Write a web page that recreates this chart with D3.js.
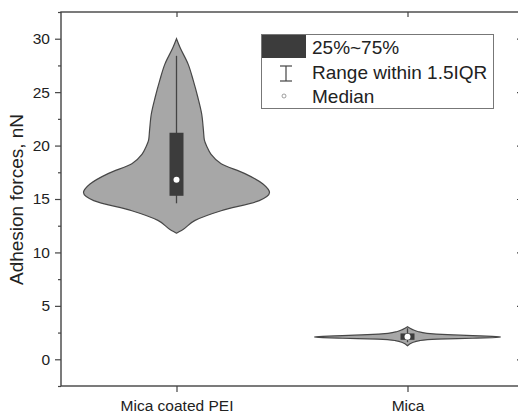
<!DOCTYPE html>
<html><head><meta charset="utf-8">
<script src="https://cdn.jsdelivr.net/npm/d3@7"></script>
<style>body{margin:0;background:#fff}svg{display:block;font-family:"Liberation Sans",Arial,sans-serif}</style>
</head><body><svg id="c" width="518" height="413"></svg>
<script>
const categories = ["Mica coated PEI", "Mica"];
// violin density profiles: value (nN) and relative density (0..1)
const peiValues   = [11.8, 12.05, 13.0, 13.9, 14.85, 15.6, 16.4, 17.4, 18.3, 19.2, 19.85, 20.5, 21.4, 23.0, 24.5, 26.1, 27.6, 29.2, 30.0];
const peiDensity  = [0, 0.054, 0.20, 0.48, 0.89, 1.0, 0.93, 0.73, 0.48, 0.37, 0.33, 0.30, 0.29, 0.27, 0.23, 0.18, 0.126, 0.037, 0];
const micaValues  = [1.27, 1.55, 1.75, 1.88, 1.97, 2.03, 2.09, 2.15, 2.21, 2.3, 2.43, 2.6, 2.8, 3.05];
const micaDensity = [0, 0.05, 0.13, 0.32, 0.70, 0.91, 1.0, 0.91, 0.70, 0.43, 0.21, 0.11, 0.05, 0];
// box statistics [whiskerLow, q1, median, q3, whiskerHigh]
const peiBox  = [14.6, 15.3, 16.8, 21.2, 28.4];
const micaBox = [1.6, 1.82, 2.1, 2.42, 2.9];
const yTicks = [0, 5, 10, 15, 20, 25, 30];
const yMinorTicks = [-2.5, 2.5, 7.5, 12.5, 17.5, 22.5, 27.5, 32.5];
const legendLabels = ["25%~75%", "Range within 1.5IQR", "Median"];

const svg = d3.select("#c");
const L = 61, R = 523, T = 12, B = 386;
const x = d3.scalePoint().domain(categories).range([L, R]).padding(0.5);
const y = d3.scaleLinear().domain([-2.5, 32.5]).range([B, T]);
const w = d3.scaleLinear().domain([0, 1]).range([0, 93]);
const axisCol = "#444";

const series = [
  {cat: categories[0], v: peiValues, d: peiDensity, box: peiBox},
  {cat: categories[1], v: micaValues, d: micaDensity, box: micaBox}
];

series.forEach(s => {
  const pts = s.v.map((v, i) => ({v, d: s.d[i]}));
  const cx = x(s.cat);
  const area = d3.area()
    .y(p => y(p.v))
    .x0(p => cx - w(p.d))
    .x1(p => cx + w(p.d))
    .curve(d3.curveMonotoneY);
  svg.append("path").attr("d", area(pts))
    .attr("fill", "#a7a7a7").attr("stroke", "#474747").attr("stroke-width", 1.2);
  const g = svg.append("g");
  g.append("line").attr("x1", cx).attr("x2", cx)
    .attr("y1", y(s.box[0])).attr("y2", y(s.box[4]))
    .attr("stroke", "#444").attr("stroke-width", 1.3);
  g.append("rect").attr("x", cx - 7).attr("width", 14)
    .attr("y", y(s.box[3])).attr("height", y(s.box[1]) - y(s.box[3]))
    .attr("fill", "#3c3c3c");
  g.append("circle").attr("cx", cx).attr("cy", y(s.box[2])).attr("r", 3)
    .attr("fill", "#fff");
});

// frame
svg.append("rect").attr("x", L).attr("y", T).attr("width", R - L).attr("height", B - T)
  .attr("fill", "none").attr("stroke", axisCol).attr("stroke-width", 1.4);

// left axis
const yAxis = d3.axisLeft(y).tickValues(yTicks).tickSize(6).tickPadding(5).tickFormat(d3.format("d"));
const gl = svg.append("g").attr("transform", `translate(${L},0)`).call(yAxis);
gl.select(".domain").remove();
gl.selectAll(".tick line").attr("stroke", axisCol).attr("stroke-width", 1.2);
gl.selectAll(".tick text").attr("font-size", 15.5).attr("fill", "#222").attr("font-family", "Liberation Sans, Arial, sans-serif");
const glm = svg.append("g").attr("transform", `translate(${L},0)`)
  .call(d3.axisLeft(y).tickValues(yMinorTicks).tickSize(3).tickFormat(""));
glm.select(".domain").remove();
glm.selectAll(".tick line").attr("stroke", axisCol).attr("stroke-width", 1.2);

// right axis (mirror, inward)
const gr = svg.append("g").attr("transform", `translate(${R},0)`)
  .call(d3.axisLeft(y).tickValues(yTicks).tickSize(6).tickFormat(""));
gr.select(".domain").remove();
gr.selectAll(".tick line").attr("stroke", axisCol).attr("stroke-width", 1.2);
const grm = svg.append("g").attr("transform", `translate(${R},0)`)
  .call(d3.axisLeft(y).tickValues(yMinorTicks).tickSize(3).tickFormat(""));
grm.select(".domain").remove();
grm.selectAll(".tick line").attr("stroke", "#bbb").attr("stroke-width", 1);

// bottom axis
const gb = svg.append("g").attr("transform", `translate(0,${B})`)
  .call(d3.axisBottom(x).tickSize(6).tickPadding(8));
gb.select(".domain").remove();
gb.selectAll(".tick line").attr("stroke", axisCol).attr("stroke-width", 1.2);
gb.selectAll(".tick text").attr("font-size", 15.5).attr("fill", "#222").attr("font-family", "Liberation Sans, Arial, sans-serif");

// top axis (inward)
const gt = svg.append("g").attr("transform", `translate(0,${T})`)
  .call(d3.axisBottom(x).tickSize(5).tickFormat(""));
gt.select(".domain").remove();
gt.selectAll(".tick line").attr("stroke", axisCol).attr("stroke-width", 1.2);

// y label
svg.append("text").attr("transform", `translate(23,${(112 + 287) / 2}) rotate(-90)`)
  .attr("text-anchor", "middle").attr("font-size", 19).attr("fill", "#222")
  .text("Adhesion forces, nN");

// legend
const lg = svg.append("g");
lg.append("rect").attr("x", 261.5).attr("y", 34.5).attr("width", 232).attr("height", 74)
  .attr("fill", "#fff").attr("stroke", "#777").attr("stroke-width", 1);
lg.append("rect").attr("x", 262).attr("y", 35).attr("width", 44).attr("height", 23).attr("fill", "#3c3c3c");
const ib = lg.append("g").attr("stroke", "#444").attr("stroke-width", 1.2);
ib.append("line").attr("x1", 286).attr("x2", 286).attr("y1", 66).attr("y2", 81);
ib.append("line").attr("x1", 280).attr("x2", 292).attr("y1", 66).attr("y2", 66);
ib.append("line").attr("x1", 280).attr("x2", 292).attr("y1", 81).attr("y2", 81);
lg.append("circle").attr("cx", 284).attr("cy", 96).attr("r", 2).attr("fill", "#fff").attr("stroke", "#888").attr("stroke-width", 0.8);
const rowsY = [54, 79, 103];
legendLabels.forEach((t, i) => {
  lg.append("text").attr("x", 312).attr("y", rowsY[i]).attr("font-size", 19).attr("fill", "#222").text(t);
});
</script></body></html>
